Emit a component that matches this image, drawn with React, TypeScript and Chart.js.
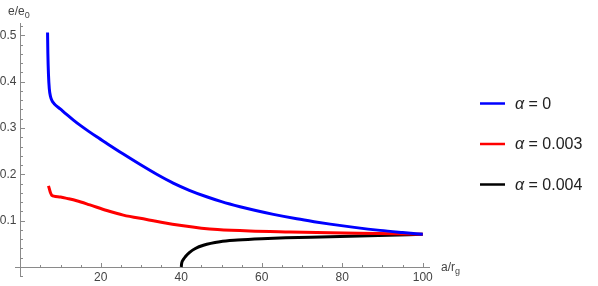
import React, { useEffect, useRef } from "react";
import { Chart, registerables } from "chart.js";

Chart.register(...registerables);

const seriesLabels = ["α = 0", "α = 0.003", "α = 0.004"];
const seriesColors = ["#0000ff", "#ff0000", "#000000"];

const blueA = [6.77, 6.85, 7.0, 7.2, 7.5, 7.9, 8.4, 10, 11.5, 13.2, 15, 17, 19, 21.5, 25.5, 29.8, 34, 38, 42, 46.3, 50, 54.6, 58.5, 62.9, 68.7, 73, 77, 83, 89.4, 95, 100];
const blueE = [0.506, 0.46, 0.415, 0.385, 0.368, 0.3585, 0.3525, 0.3405, 0.3292, 0.317, 0.305, 0.2926, 0.2808, 0.2666, 0.2442, 0.221, 0.1995, 0.181, 0.1655, 0.1515, 0.141, 0.130, 0.1218, 0.1135, 0.104, 0.0978, 0.0925, 0.0855, 0.079, 0.0744, 0.0706];

const redA = [7.0, 7.2, 7.5, 7.8, 8.3, 10, 11.6, 14, 17.3, 21.5, 25.6, 31.4, 35, 40.5, 45, 49, 57, 67, 77, 89, 100];
const redE = [0.175, 0.169, 0.160, 0.155, 0.153, 0.151, 0.148, 0.143, 0.134, 0.122, 0.112, 0.1025, 0.0965, 0.0888, 0.0838, 0.0807, 0.0775, 0.0755, 0.0738, 0.0722, 0.0706];

const blackA = [40.0, 40.1, 40.5, 41, 42, 43.5, 45.5, 49.6, 54, 60, 66, 77, 89, 100];
const blackE = [0.0, 0.008, 0.016, 0.022, 0.031, 0.040, 0.047, 0.0545, 0.058, 0.061, 0.063, 0.065, 0.068, 0.0706];

const xTickValues = [20, 40, 60, 80, 100];
const xTickLabels = ["20", "40", "60", "80", "100"];
const yTickValues = [0.1, 0.2, 0.3, 0.4, 0.5];
const yTickLabels = ["0.1", "0.2", "0.3", "0.4", "0.5"];
const xMinorStep = 5;
const yMinorStep = 0.02;

const toPoints = (a: number[], e: number[]) => a.map((v, i) => ({ x: v, y: e[i] }));

const axesPlugin = {
  id: "mathAxes",
  beforeDatasetsDraw(chart: any) {
    const ctx = chart.ctx;
    const xs = chart.scales.x;
    const ys = chart.scales.y;
    const ox = Math.round(xs.getPixelForValue(0)) + 0.5;
    const oy = Math.round(ys.getPixelForValue(0)) + 0.5;
    ctx.save();
    ctx.strokeStyle = "#8a8a8a";
    ctx.lineWidth = 1;
    ctx.beginPath();
    ctx.moveTo(xs.left, oy);
    ctx.lineTo(xs.right, oy);
    ctx.moveTo(ox, ys.top);
    ctx.lineTo(ox, ys.bottom);
    const x0 = Math.ceil(xs.min / xMinorStep);
    const x1 = Math.floor(xs.max / xMinorStep);
    for (let k = x0; k <= x1; k++) {
      if (k === 0) continue;
      const v = k * xMinorStep;
      const major = xTickValues.indexOf(v) >= 0;
      const px = Math.round(xs.getPixelForValue(v)) + 0.5;
      ctx.moveTo(px, oy);
      ctx.lineTo(px, oy - (major ? 4.5 : 2.5));
    }
    const y0 = Math.ceil(ys.min / yMinorStep - 1e-9);
    const y1 = Math.floor(ys.max / yMinorStep + 1e-9);
    for (let k = y0; k <= y1; k++) {
      if (k === 0) continue;
      const v = k * yMinorStep;
      const major = yTickValues.some((t) => Math.abs(t - v) < 1e-9);
      const py = Math.round(ys.getPixelForValue(v)) + 0.5;
      ctx.moveTo(ox, py);
      ctx.lineTo(ox + (major ? 4.5 : 2.5), py);
    }
    ctx.stroke();

    ctx.fillStyle = "#444";
    ctx.font = "12px 'Liberation Sans', Arial, sans-serif";
    ctx.textAlign = "center";
    ctx.textBaseline = "top";
    xTickValues.forEach((v, i) => {
      ctx.fillText(xTickLabels[i], xs.getPixelForValue(v), oy + 4);
    });
    ctx.textAlign = "right";
    ctx.textBaseline = "middle";
    yTickValues.forEach((v, i) => {
      ctx.fillText(yTickLabels[i], ox - 4, ys.getPixelForValue(v));
    });

    ctx.textAlign = "left";
    ctx.textBaseline = "alphabetic";
    ctx.font = "12px 'Liberation Sans', Arial, sans-serif";
    ctx.fillText("e/e", 8, 15);
    let w = ctx.measureText("e/e").width;
    ctx.font = "9px 'Liberation Sans', Arial, sans-serif";
    ctx.fillText("0", 8 + w, 18);

    ctx.font = "12px 'Liberation Sans', Arial, sans-serif";
    const lx = xs.right + 11;
    ctx.fillText("a/r", lx, 271);
    w = ctx.measureText("a/r").width;
    ctx.font = "9px 'Liberation Sans', Arial, sans-serif";
    ctx.fillText("g", lx + w, 274);
    ctx.restore();
  },
  afterDraw(chart: any) {
    const ctx = chart.ctx;
    const area = chart.chartArea;
    ctx.save();
    const startX = area.right + 50;
    chart.data.datasets.forEach((ds: any, i: number) => {
      const y = 103.5 + i * 40.5;
      ctx.strokeStyle = ds.borderColor;
      ctx.lineWidth = 2.5;
      ctx.beginPath();
      ctx.moveTo(startX, y);
      ctx.lineTo(startX + 25, y);
      ctx.stroke();
      const label: string = ds.label;
      ctx.fillStyle = "#222";
      ctx.textBaseline = "middle";
      ctx.textAlign = "left";
      let tx = startX + 35;
      ctx.font = "italic 16px 'Liberation Sans', Arial, sans-serif";
      const first = label.charAt(0);
      ctx.fillText(first, tx, y + 1);
      tx += ctx.measureText(first).width;
      ctx.font = "16px 'Liberation Sans', Arial, sans-serif";
      ctx.fillText(label.slice(1), tx, y + 1);
    });
    ctx.restore();
  },
};

export default function App() {
  const ref = useRef<HTMLCanvasElement | null>(null);
  useEffect(() => {
    if (!ref.current) return;
    const series = [toPoints(blueA, blueE), toPoints(redA, redE), toPoints(blackA, blackE)];
    const chart = new Chart(ref.current, {
      type: "line",
      data: {
        datasets: series.map((pts, i) => ({
          label: seriesLabels[i],
          data: pts,
          borderColor: seriesColors[i],
          backgroundColor: seriesColors[i],
          borderWidth: 3,
          pointRadius: 0,
          cubicInterpolationMode: "monotone" as const,
          borderJoinStyle: "round" as const,
          fill: false,
        })),
      },
      options: {
        responsive: false,
        animation: false,
        layout: { padding: { left: 15, right: 168, top: 23, bottom: 9 } },
        plugins: { legend: { display: false }, tooltip: { enabled: false } },
        scales: {
          x: { type: "linear", min: -1.32, max: 101.81, display: false },
          y: { type: "linear", min: -0.0216, max: 0.5265, display: false },
        },
      },
      plugins: [axesPlugin],
    });
    return () => chart.destroy();
  }, []);
  return (
    <div style={{ position: "absolute", left: 0, top: 0, width: 598, height: 286, background: "#fff" }}>
      <canvas ref={ref} width={598} height={286} />
    </div>
  );
}
